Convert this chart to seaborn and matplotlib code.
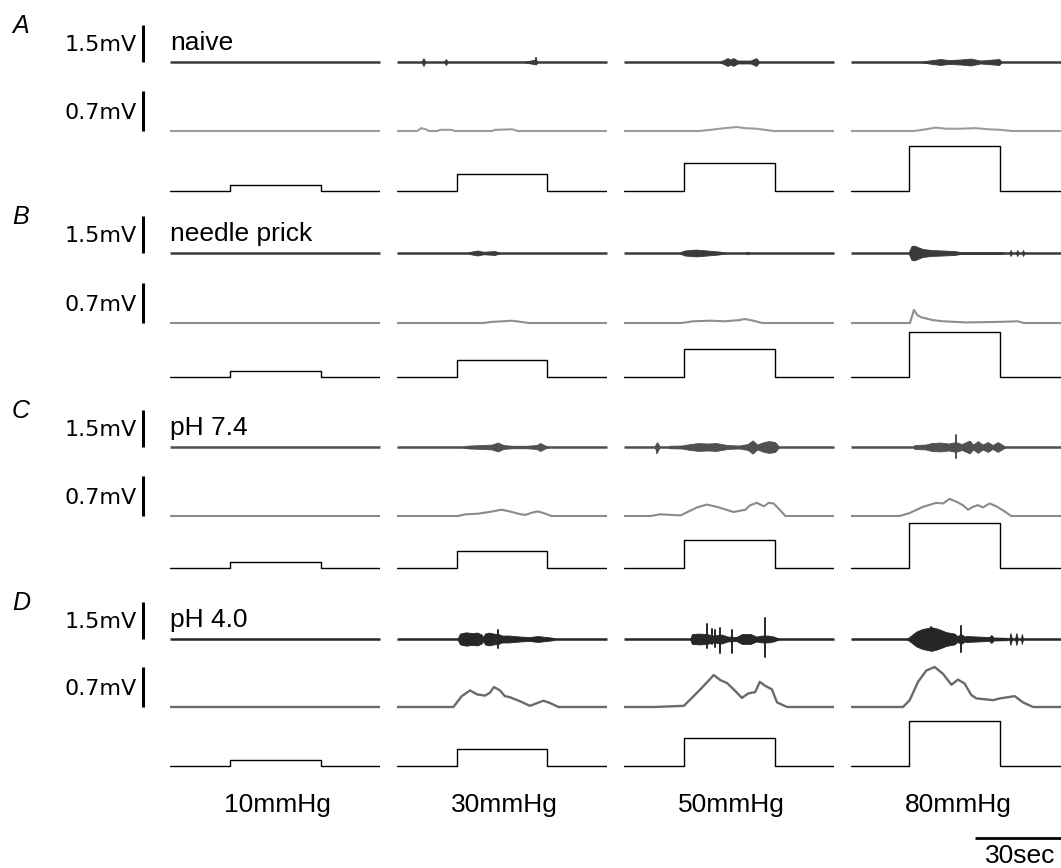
import numpy as np
import pandas as pd
import seaborn as sns
import matplotlib.pyplot as plt

# ---- data ----
panels = ["A", "B", "C", "D"]
conditions = ["naive", "needle prick", "pH 7.4", "pH 4.0"]
pressures = [10, 30, 50, 80]                      # mmHg
pressure_labels = ["10mmHg", "30mmHg", "50mmHg", "80mmHg"]
step_on = [20.9, 21.0, 21.0, 20.1]                # s
step_off = [52.5, 52.3, 52.5, 51.8]               # s
window = 73                                       # s shown per column
raw_bar = 1.5                                     # mV
int_bar = 0.7                                     # mV
time_bar = 30                                     # s

# raw nerve activity: envelope (time s, half amplitude mV) per column
raw_A = [[],
         [(8.5, 0), (9.2, 0.16), (9.9, 0), (16.3, 0), (17, 0.12), (17.7, 0),
          (44, 0), (46, 0.05), (48.3, 0.1), (49, 0)],
         [(33, 0), (35, 0.1), (36, 0.16), (37, 0.1), (38, 0.16), (39.5, 0.06),
          (44, 0.06), (46, 0.16), (47, 0)],
         [(24, 0), (27, 0.06), (31, 0.12), (34, 0.08), (38, 0.1), (41.5, 0.14),
          (45, 0.06), (51.5, 0.12), (52.5, 0)]]
raw_B = [[],
         [(24, 0), (26, 0.06), (28, 0.1), (30, 0.05), (34, 0.08), (36, 0)],
         [(19, 0), (21, 0.1), (25, 0.14), (29, 0.1), (33, 0.06), (36, 0),
          (42, 0), (43, 0.05), (44, 0)],
         [(20, 0), (21, 0.28), (22, 0.3), (23, 0.25), (25, 0.16), (28, 0.12),
          (32, 0.1), (36, 0.08), (38, 0.04), (52, 0.04), (54, 0),
          (55, 0), (55.5, 0.12), (56, 0), (57.3, 0), (57.8, 0.12), (58.3, 0),
          (59.3, 0), (59.8, 0.12), (60.3, 0)]]
raw_C = [[],
         [(22, 0), (25, 0.06), (30, 0.08), (33, 0.1), (35, 0.18), (37, 0.08),
          (40, 0.05), (45, 0.05), (48.5, 0.08), (49.8, 0.16), (51.5, 0.06), (53, 0)],
         [(10.5, 0), (11.5, 0.2), (12.5, 0), (15, 0), (16, 0.05), (20, 0.06),
          (23, 0.12), (26, 0.16), (29, 0.14), (32, 0.16), (35.9, 0.08), (40, 0.06),
          (43, 0.12), (44.7, 0.27), (46.3, 0.1), (48.6, 0.2), (50.5, 0.24),
          (52.5, 0.2), (54, 0)],
         [(21.5, 0), (22.1, 0.08), (26, 0.1), (28, 0.16), (31, 0.18), (34, 0.14),
          (36.4, 0.2), (38.5, 0.12), (41.2, 0.26), (42.5, 0.1), (44.1, 0.24),
          (45.7, 0.1), (47.6, 0.2), (49.2, 0.08), (51, 0.2), (53.9, 0)]]
raw_D = [[],
         [(21, 0), (21.9, 0.22), (24, 0.27), (26, 0.24), (28, 0.26), (29.4, 0.18),
          (30, 0.08), (30.6, 0.22), (32, 0.26), (33.5, 0.22), (35.2, 0.2),
          (36.5, 0.14), (39, 0.14), (42.8, 0.1), (46, 0.08), (49, 0.12),
          (50.5, 0.1), (54.2, 0.05), (55, 0)],
         [(23, 0), (23.6, 0.2), (26, 0.22), (28.8, 0.2), (31, 0.14), (34, 0.18),
          (36, 0.1), (39, 0.08), (41, 0.2), (44, 0.2), (46, 0.1), (48, 0.14),
          (50, 0.14), (52, 0.1), (54.3, 0)],
         [(19, 0), (19.8, 0.04), (22.7, 0.3), (24.7, 0.4), (27.9, 0.48), (30, 0.42),
          (31.6, 0.35), (33, 0.28), (35.9, 0.22), (37, 0.12), (38.3, 0.2),
          (39.5, 0.1), (40, 0.12), (44, 0.1), (48, 0.08), (48.8, 0.16), (49.6, 0.06),
          (54, 0.05), (55, 0), (55.4, 0.24), (56, 0), (57, 0), (57.5, 0.24),
          (58, 0), (59, 0), (59.4, 0.2), (59.8, 0)]]

# single large spikes: (time s, up mV, down mV)
spikes_A = [[], [(48.3, 0.16, 0.04)], [], []]
spikes_B = [[], [], [], []]
spikes_C = [[], [], [(11.5, 0.1, 0.26)], [(36.4, 0.5, 0.45)]]
spikes_D = [[], [(35.2, 0.38, 0.38)],
            [(28.8, 0.6, 0.38), (30.5, 0.4, 0.2), (31.7, 0.36, 0.31),
             (33.5, 0.43, 0.58), (37.5, 0.36, 0.58), (49.1, 0.84, 0.72)],
            [(27.9, 0.5, 0.45), (38.3, 0.53, 0.53)]]

# integrated activity: (time s, mV)
int_A = [[(0, 0), (73, 0)],
         [(0, 0), (7, 0), (8.4, 0.05), (10, 0.03), (11, 0), (14, 0), (15, 0.02),
          (19, 0.02), (20, 0), (33, 0), (34, 0.02), (40, 0.03), (42, 0), (73, 0)],
         [(0, 0), (26, 0), (30, 0.02), (35, 0.05), (39.4, 0.07), (42, 0.05),
          (46, 0.04), (49, 0.02), (52, 0), (73, 0)],
         [(0, 0), (22, 0), (26, 0.03), (29.5, 0.06), (33, 0.04), (38, 0.04),
          (43, 0.05), (48, 0.03), (52, 0.02), (56, 0), (73, 0)]]
int_B = [[(0, 0), (73, 0)],
         [(0, 0), (30, 0), (33, 0.02), (37, 0.03), (40, 0.04), (43, 0.02),
          (46, 0), (73, 0)],
         [(0, 0), (20, 0), (24, 0.03), (30, 0.04), (35, 0.03), (40, 0.05),
          (42, 0.07), (45, 0.04), (48, 0), (73, 0)],
         [(0, 0), (20.5, 0), (21.9, 0.23), (23, 0.14), (24.4, 0.1), (28.5, 0.05),
          (32, 0.03), (36, 0.02), (40, 0.01), (52, 0.02), (58, 0.03), (60, 0),
          (73, 0)]]
int_C = [[(0, 0), (73, 0)],
         [(0, 0), (21, 0), (24, 0.03), (28, 0.04), (32, 0.07), (36.4, 0.11),
          (40, 0.07), (43, 0.03), (44.7, 0.02), (47, 0.06), (49, 0.08),
          (51, 0.05), (53.7, 0), (73, 0)],
         [(0, 0), (9.2, 0), (12.6, 0.03), (19.6, 0.01), (25.4, 0.15), (28.8, 0.2),
          (32.3, 0.16), (38.1, 0.07), (42.2, 0.11), (43.9, 0.19), (46.2, 0.23),
          (48.6, 0.17), (50.3, 0.23), (52, 0.22), (54.3, 0.1), (56.1, 0), (73, 0)],
         [(0, 0), (16.9, 0), (20.3, 0.05), (25, 0.16), (29.6, 0.23), (32, 0.22),
          (34.3, 0.3), (36.6, 0.25), (38.9, 0.19), (40.7, 0.11), (42.4, 0.16),
          (44.1, 0.19), (45.9, 0.15), (48.2, 0.22), (50.5, 0.17), (52.8, 0.1),
          (55.7, 0), (73, 0)]]
int_D = [[(0, 0), (73, 0)],
         [(0, 0), (19.6, 0), (22.5, 0.19), (25.4, 0.29), (27.9, 0.22), (30.6, 0.2),
          (32.3, 0.25), (33.7, 0.35), (35.8, 0.29), (37.5, 0.19), (39.3, 0.17),
          (42.8, 0.1), (46.2, 0.02), (50.9, 0.11), (53.2, 0.07), (56.1, 0), (73, 0)],
         [(0, 0), (10.3, 0), (20.8, 0.02), (24.2, 0.19), (27.7, 0.37), (31.2, 0.56),
          (33.5, 0.47), (35.8, 0.42), (38.1, 0.31), (41, 0.16), (43.3, 0.24),
          (45.6, 0.26), (47.2, 0.44), (49.1, 0.37), (51.4, 0.31), (53.2, 0.08),
          (56.7, 0), (73, 0)],
         [(0, 0), (18.1, 0), (20.4, 0.12), (23.3, 0.44), (26.2, 0.64), (29.1, 0.7),
          (32, 0.58), (34.9, 0.39), (37.2, 0.48), (39.5, 0.41), (41.8, 0.21),
          (43.6, 0.15), (49.4, 0.12), (51.7, 0.15), (56.9, 0.19), (59.8, 0.08),
          (63.3, 0), (73, 0)]]

raw_all = [raw_A, raw_B, raw_C, raw_D]
spikes_all = [spikes_A, spikes_B, spikes_C, spikes_D]
int_all = [int_A, int_B, int_C, int_D]

# ---- layout (pixels) ----
W, H = 1061, 868
col_x = [170, 397, 624, 851]
col_w = 210
raw_y = [62, 253, 447, 639]
int_y = [131, 323, 516, 707]
step_y = [191, 377, 568, 766]
px_raw = 24.7      # px per mV (raw)
px_int = 57.1      # px per mV (integrated)
px_p = 0.567       # px per mmHg
px_s = col_w / window

raw_col = ["#3a3a3a", "#3a3a3a", "#505050", "#262626"]
int_col = ["#9c9c9c", "#8e8e8e", "#8a8a8a", "#6a6a6a"]

sns.set_style("white")
plt.rcParams["font.family"] = ["Liberation Sans", "DejaVu Sans"]
plt.rcParams["text.color"] = "black"

fig = plt.figure(figsize=(W / 100, H / 100), dpi=100)


def add_ax(x, top, w, h):
    ax = fig.add_axes([x / W, 1 - (top + h) / H, w / W, h / H])
    ax.axis("off")
    return ax


def ftext(x, y, s, **kw):
    fig.text(x / W, 1 - y / H, s, color="black", **kw)


for p in range(4):
    for c in range(4):
        # raw trace
        ax = add_ax(col_x[c], raw_y[p] - 30, col_w, 60)
        ax.set_xlim(0, window)
        ax.set_ylim(-30 / px_raw, 30 / px_raw)
        ax.plot([0, window], [0, 0], color=raw_col[p], lw=1.8, clip_on=False,
                solid_capstyle="butt")
        env = raw_all[p][c]
        if env:
            t = np.array([e[0] for e in env])
            a = np.array([e[1] for e in env])
            ax.fill_between(t, -a, a, color=raw_col[p], lw=0.6,
                            edgecolor=raw_col[p])
        for (ts, up, dn) in spikes_all[p][c]:
            ax.plot([ts, ts], [-dn, up], color=raw_col[p], lw=1.4, clip_on=False)
        if c == 0:
            ax.plot([-27 / px_s] * 2, [0, raw_bar], color="black", lw=2.2,
                    clip_on=False, solid_capstyle="butt")

        # integrated trace
        ax = add_ax(col_x[c], int_y[p] - 50, col_w, 56)
        ax.set_xlim(0, window)
        ax.set_ylim(-6 / px_int, 50 / px_int)
        df = pd.DataFrame(int_all[p][c], columns=["t", "v"])
        sns.lineplot(data=df, x="t", y="v", ax=ax, estimator=None, sort=False,
                     color=int_col[p], lw=1.5 if p < 3 else 1.7)
        ax.axis("off")
        if c == 0:
            ax.plot([-27 / px_s] * 2, [0, int_bar], color="black", lw=2.2,
                    clip_on=False, solid_capstyle="butt")

        # pressure step
        ax = add_ax(col_x[c], step_y[p] - 50, col_w, 54)
        ax.set_xlim(0, window)
        ax.set_ylim(-4 / px_p, 50 / px_p)
        st = pd.DataFrame({
            "t": [0, step_on[c], step_on[c], step_off[c], step_off[c], window],
            "p": [0, 0, pressures[c], pressures[c], 0, 0]})
        sns.lineplot(data=st, x="t", y="p", ax=ax, estimator=None, sort=False,
                     color="black", lw=1.0)
        ax.axis("off")

    # labels for this panel
    ftext(12, raw_y[p] - 29, panels[p], fontsize=18, style="italic",
          va="baseline", ha="left")
    ftext(137, raw_y[p] - 11, "1.5mV", fontsize=16, family="DejaVu Sans",
          va="baseline", ha="right")
    ftext(137, int_y[p] - 12, "0.7mV", fontsize=16, family="DejaVu Sans",
          va="baseline", ha="right")
    ftext(170, raw_y[p] - 12, conditions[p], fontsize=19, va="baseline",
          ha="left")

for c in range(4):
    ftext(col_x[c] + col_w / 2 + 2, 812, pressure_labels[c], fontsize=19,
          va="baseline", ha="center")

# 30 s time bar under the last column
ax = add_ax(col_x[3], 830, col_w, 16)
ax.set_xlim(0, window)
ax.set_ylim(-1, 1)
ax.plot([window - time_bar, window], [0, 0], color="black", lw=2.0,
        clip_on=False, solid_capstyle="butt")
ftext(1055, 863, "30sec", fontsize=19, va="baseline", ha="right")

fig.savefig("out.png", dpi=100)
